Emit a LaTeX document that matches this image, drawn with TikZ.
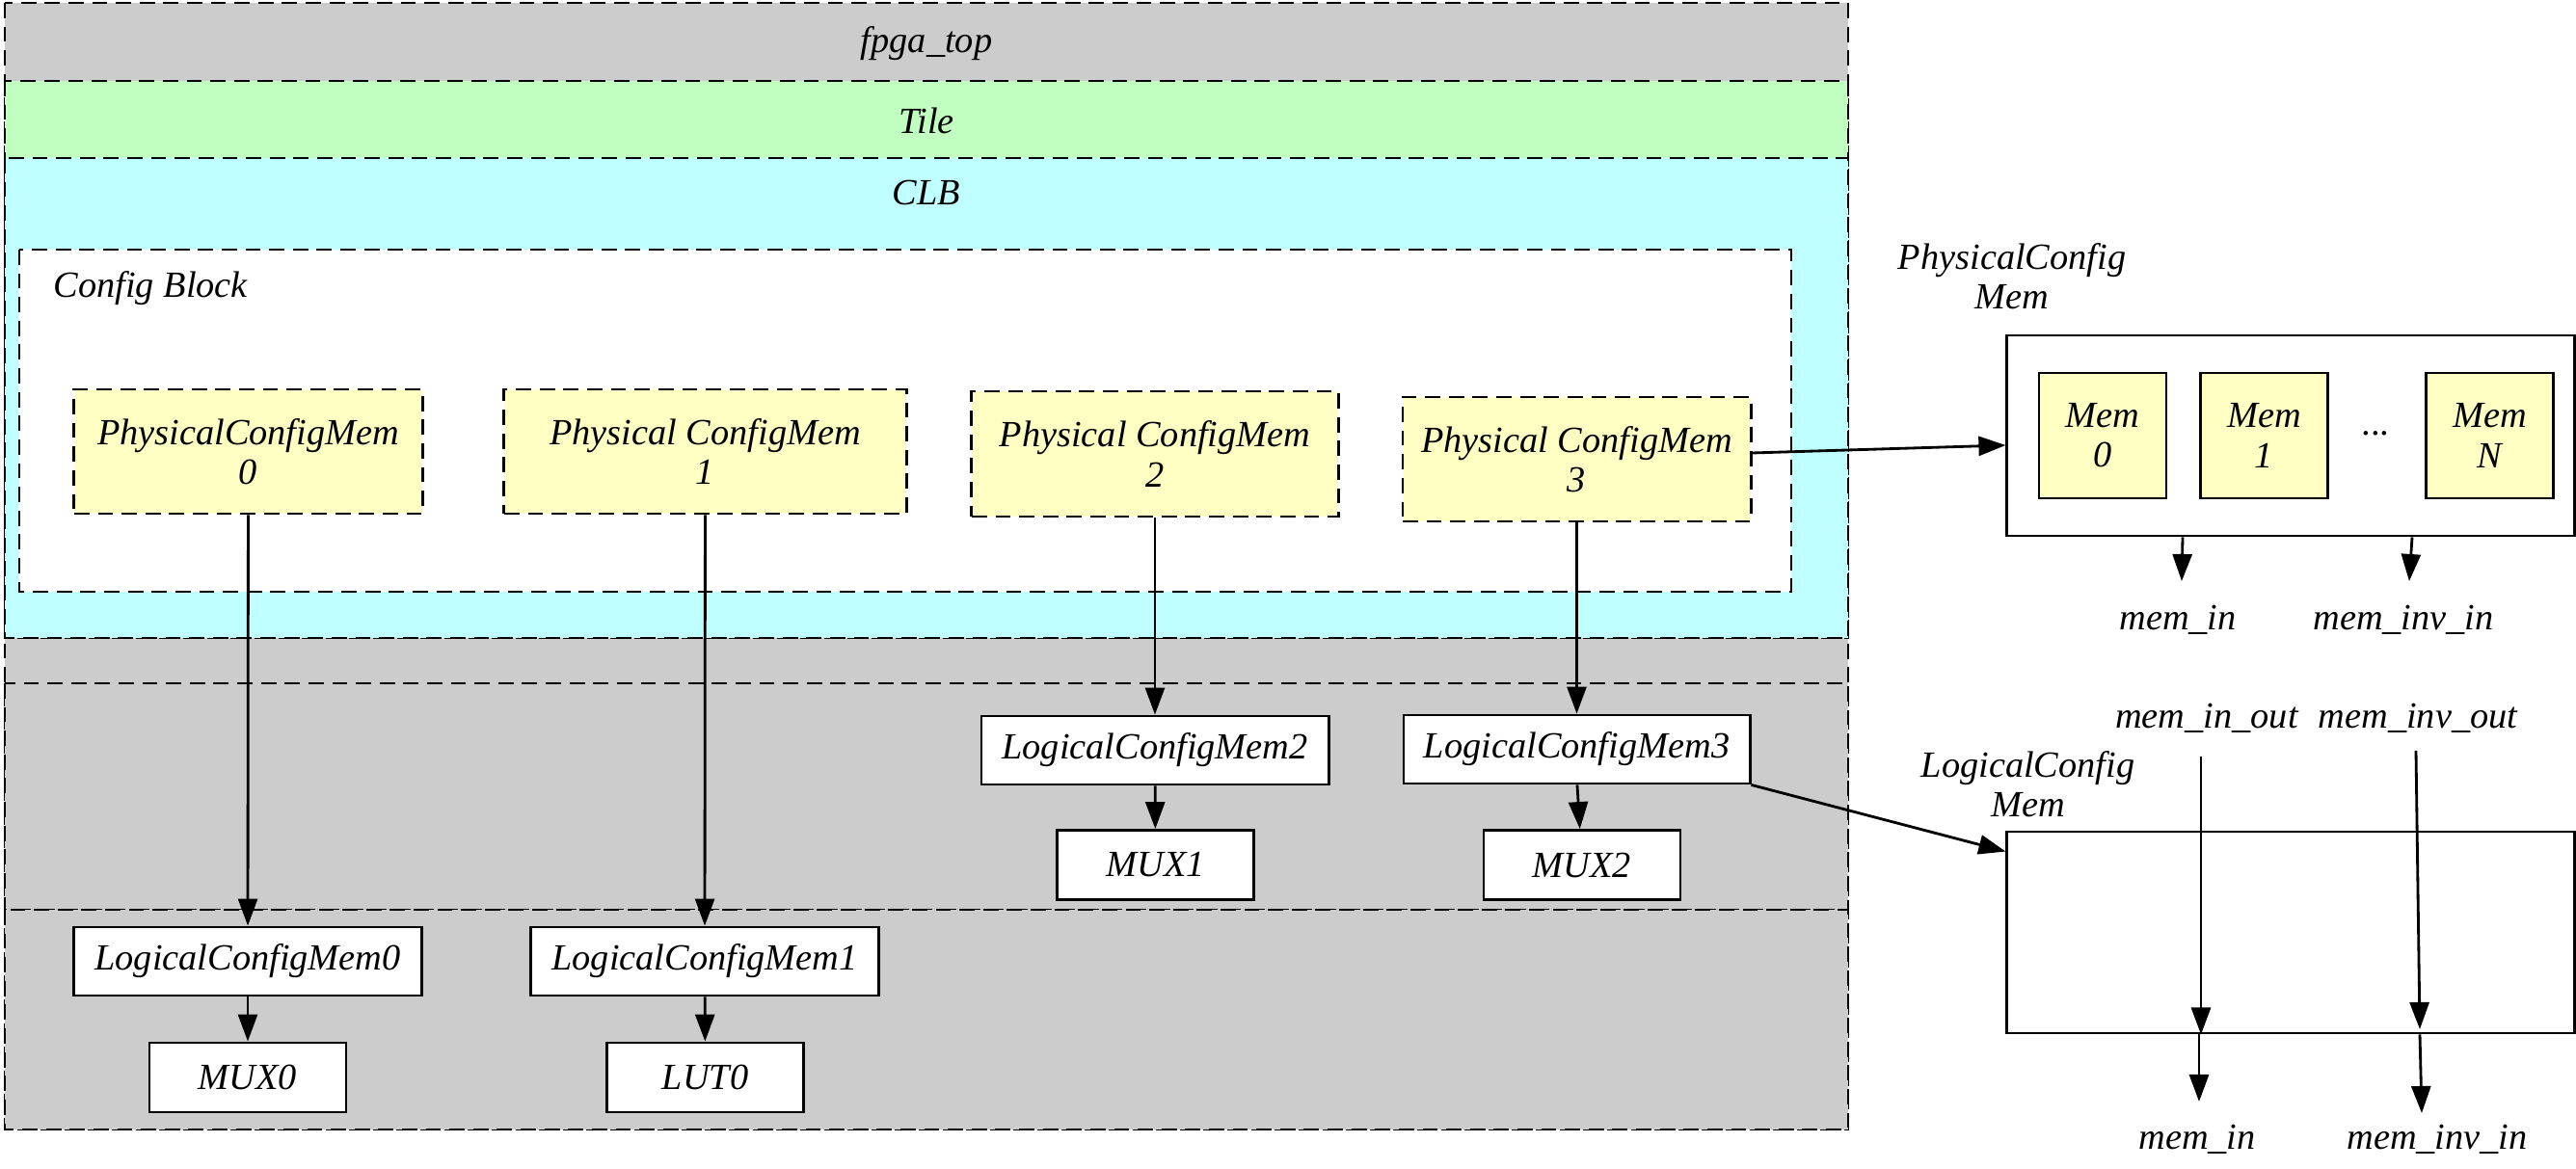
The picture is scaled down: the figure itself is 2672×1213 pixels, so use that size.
\documentclass[tikz,border=0pt]{standalone}
\usepackage{fontspec}
\setmainfont{Liberation Serif}
\usetikzlibrary{arrows.meta,calc}
\definecolor{gry}{HTML}{CCCCCC}
\definecolor{tilegreen}{HTML}{C0FFC0}
\definecolor{clbcyan}{HTML}{C0FFFF}
\definecolor{yel}{HTML}{FFFFC4}
\newcommand{\lblfont}{\fontsize{10.9}{11.7}\selectfont\itshape}
\begin{document}
\begin{tikzpicture}[x=0.01cm,y=-0.01cm,
  every node/.style={font=\lblfont},
  lbl/.style={inner sep=0pt, align=center},
  cluster/.style={draw, line width=0.8pt, dash pattern=on 4.5pt off 2.5pt},
  pcm/.style={draw, line width=0.8pt, dash pattern=on 4.5pt off 2.5pt, fill=yel, minimum height=1.29cm, align=center, inner sep=0pt},
  lcm/.style={draw, line width=0.8pt, fill=white, minimum width=3.60cm, minimum height=0.71cm, inner sep=0pt},
  muxb/.style={draw, line width=0.8pt, fill=white, minimum width=2.04cm, minimum height=0.72cm, inner sep=0pt},
  memb/.style={draw, line width=0.8pt, fill=yel, minimum width=1.32cm, minimum height=1.30cm, align=center, inner sep=0pt},
  bigbox/.style={draw, line width=0.8pt, fill=white, minimum width=5.88cm, inner sep=0pt},
  conn/.style={-{Triangle[length=0.28cm,width=0.2cm]}, line width=0.8pt}
]
\useasboundingbox (0,0) rectangle (2672,1213);
\fill[white] (0,0) rectangle (2672,1213);

% clusters
\draw[cluster, fill=gry] (5,3) rectangle (1917,1172);
\draw[cluster, fill=tilegreen] (5,84) rectangle (1917,662);
\draw[cluster, fill=clbcyan] (5,164) rectangle (1917,662);
\draw[cluster, fill=white] (20,259) rectangle (1858,614);
\draw[cluster, fill=gry] (5,709) rectangle (1917,944);
\draw[cluster, fill=gry] (5,944) rectangle (1917,1172);

\node[lbl] (ltop) at (961,45) {fpga\_top};
\node[lbl] (ltile) at (961,125) {Tile};
\node[lbl] (lclb) at (961,200) {CLB};
\node[lbl, anchor=west] (lcfg) at (55,299) {Config Block};

% physical config mems
\node[pcm, minimum width=3.61cm] (pcm0) at (257.5,468.5) {PhysicalConfigMem\\0};
\node[pcm, minimum width=4.17cm] (pcm1) at (731.5,468.5) {Physical ConfigMem\\1};
\node[pcm, minimum width=3.80cm, minimum height=1.30cm] (pcm2) at (1198,471) {Physical ConfigMem\\2};
\node[pcm, minimum width=3.61cm] (pcm3) at (1635.5,476.5) {Physical ConfigMem\\3};

% logical config mems
\node[lcm] (lcm0) at (257,997.5) {LogicalConfigMem0};
\node[lcm] (lcm1) at (731,997.5) {LogicalConfigMem1};
\node[lcm] (lcm2) at (1198,778.5) {LogicalConfigMem2};
\node[lcm, minimum width=3.59cm] (lcm3) at (1635.5,777.5) {LogicalConfigMem3};

\node[muxb] (mux0) at (257,1118) {MUX0};
\node[muxb] (lut0) at (731.5,1118) {LUT0};
\node[muxb] (mux1) at (1198.5,897.5) {MUX1};
\node[muxb] (mux2) at (1641,897.5) {MUX2};

\draw[conn] (pcm0) -- (lcm0);
\draw[conn] (pcm1) -- (lcm1);
\draw[conn] (pcm2) -- (lcm2);
\draw[conn] (pcm3) -- (lcm3);
\draw[conn] (lcm0) -- (mux0);
\draw[conn] (lcm1) -- (lut0);
\draw[conn] (lcm2) -- (mux1);
\draw[conn] (lcm3.south -| 1636,0) -- (mux2);

% right side: physical config mem detail
\node[lbl] (physlbl) at (2087,287) {PhysicalConfig\\Mem};
\node[bigbox, minimum height=2.08cm] (physbox) at (2376,452) {};
\node[memb] (mem0) at (2181,452) {Mem\\0};
\node[memb] (mem1) at (2348.5,452) {Mem\\1};
\node[lbl, anchor=base] (dots) at (2465,452) {...};
\node[memb] (memn) at (2582.5,452) {Mem\\N};

\draw[conn] ([yshift=0.065cm]pcm3.east) -- ([yshift=-0.1cm]physbox.west);

\coordinate (pa) at (2263,603);
\coordinate (pb) at (2499,603);
\draw[conn] (physbox.south -| 2264,0) -- (pa);
\draw[conn] (physbox.south -| 2502,0) -- (pb);
\node[lbl] (pin) at (2259,643) {mem\_in};
\node[lbl] (pinv) at (2493,643) {mem\_inv\_in};

% right side: logical config mem detail
\node[lbl] (loglbl) at (2103.5,814) {LogicalConfig\\Mem};
\node[bigbox, minimum height=2.09cm] (logbox) at (2376,967.5) {};
\draw[conn] (lcm3.south east) -- ([yshift=-0.22cm]logbox.north west);

\node[lbl] (lout) at (2289,745) {mem\_in\_out};
\node[lbl] (linvout) at (2508,745) {mem\_inv\_out};
\coordinate (la) at (2283,785);
\coordinate (lb) at (2506,779);
\draw[conn] (la) -- (la |- logbox.south);
\draw[conn] (lb) -- (2510,1068);
\coordinate (lc) at (2281,1143);
\coordinate (ld) at (2512,1155);
\draw[conn] (logbox.south -| 2281,0) -- (lc);
\draw[conn] (logbox.south -| 2510,0) -- (ld);
\node[lbl] (lin) at (2279,1182) {mem\_in};
\node[lbl] (linv) at (2528,1182) {mem\_inv\_in};
\end{tikzpicture}
\end{document}
